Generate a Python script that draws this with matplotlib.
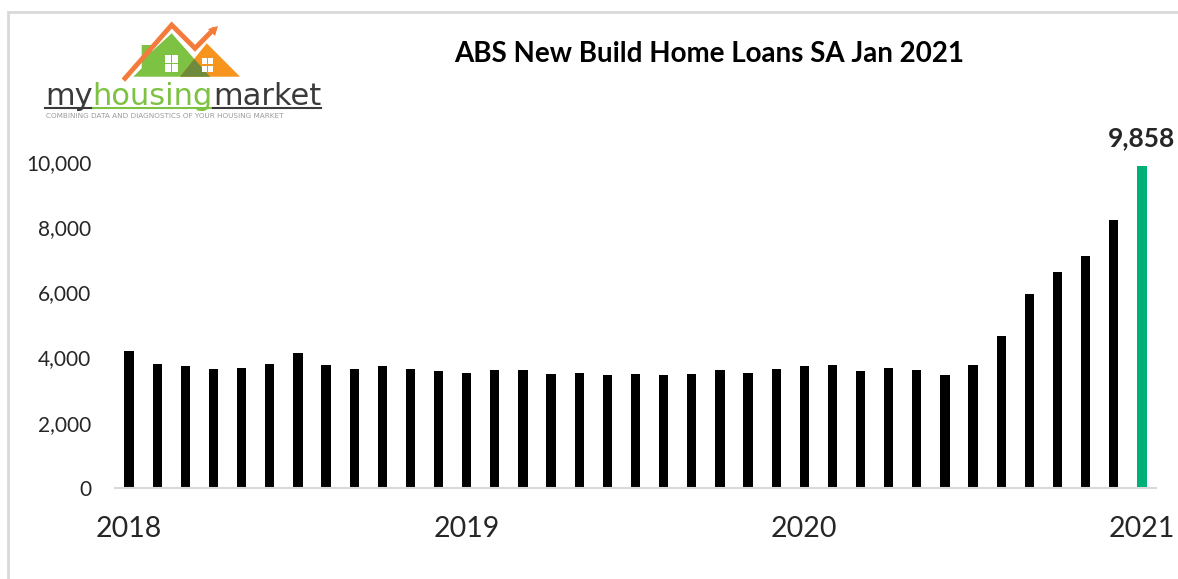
import matplotlib.pyplot as plt
from matplotlib.patches import Polygon, Rectangle
from matplotlib.lines import Line2D

plt.rcParams['font.family'] = ['Lato', 'DejaVu Sans']

# monthly new build home loans, Jan 2018 - Jan 2021
loans = [4199, 3812, 3739, 3647, 3690, 3812, 4128, 3782, 3647, 3739, 3647, 3576,
         3537, 3629, 3629, 3506, 3537, 3463, 3506, 3463, 3506, 3629, 3537, 3659,
         3751, 3782, 3586, 3690, 3616, 3463, 3770, 4671, 5936, 6632, 7110, 8213,
         9858]
year_pos = [0, 12, 24, 36]
year_labels = ["2018", "2019", "2020", "2021"]
yticks = [0, 2000, 4000, 6000, 8000, 10000]

W, H = 1178, 579
fig = plt.figure(figsize=(W / 100, H / 100), dpi=100)


def px(x, y):
    return (x / W, 1 - y / H)


# outer border
fig.add_artist(Rectangle(px(8, 640), 1.2, (640 - 12) / H, transform=fig.transFigure,
                         fill=False, ec='#d9d9d9', lw=2))

ax = fig.add_axes([115 / W, 1 - 488 / H, (1156 - 115) / W, (488 - 161.7) / H])
colors = ['black'] * (len(loans) - 1) + ['#00B077']
x = list(range(len(loans)))
ax.bar(x, loans, width=0.33, color=colors)
ax.set_xlim(-0.5, len(loans) - 0.5)
ax.set_ylim(0, 10000)
ax.set_yticks(yticks)
ax.set_yticklabels([f"{v:,}" for v in yticks], fontsize=15, color='#262626')
ax.set_xticks(year_pos)
ax.set_xticklabels(year_labels, fontsize=20.5, color='#262626')
ax.tick_params(axis='y', length=0, pad=17)
ax.tick_params(axis='x', length=0, pad=20)
for s in ['top', 'right', 'left']:
    ax.spines[s].set_visible(False)
ax.spines['bottom'].set_color('#d9d9d9')
ax.spines['bottom'].set_linewidth(1.5)

ax.annotate(f"{loans[-1]:,}", (x[-1], loans[-1]), xytext=(0, 12), textcoords='offset points',
            ha='center', va='bottom', fontsize=19, fontweight='bold', color='#262626',
            annotation_clip=False)

fig.text(*px(709, 53.5), "ABS New Build Home Loans SA Jan 2021", ha='center', va='center',
         fontsize=20, fontweight='bold', color='black')

# logo
green, orange, olive = '#7DC242', '#F7941D', '#6E8B3D'
fig.add_artist(Polygon([px(133.3, 76.7), px(141.7, 68.3), px(141.7, 45), px(151.7, 45),
                        px(151.7, 51.7), px(171.7, 33.3), px(210, 76.7)],
                       closed=True, transform=fig.transFigure, color=green, lw=0))
fig.add_artist(Polygon([px(180, 76.7), px(206.7, 43.3), px(240, 76.7)],
                       closed=True, transform=fig.transFigure, color=orange, lw=0))
fig.add_artist(Polygon([px(180, 76.7), px(194.3, 58.9), px(210, 76.7)],
                       closed=True, transform=fig.transFigure, color=olive, lw=0))
roof = [px(125, 78.3), px(171.7, 25), px(195, 48.3), px(213, 30)]
fig.add_artist(Line2D([p[0] for p in roof], [p[1] for p in roof], transform=fig.transFigure,
                      color='#F37B3B', lw=3.5, solid_joinstyle='miter'))
fig.add_artist(Polygon([px(218, 26), px(208, 29), px(215, 36)], closed=True,
                       transform=fig.transFigure, color='#F37B3B', lw=0))
for wx, wy, ww, wh in [(165, 55, 13.3, 16.7), (201.7, 58.3, 11.6, 13.4)]:
    pw, ph = (ww - 1.5) / 2, (wh - 1.5) / 2
    for i in range(2):
        for j in range(2):
            x0 = wx + i * (pw + 1.5)
            y0 = wy + (j + 1) * ph + j * 1.5
            fig.add_artist(Rectangle(px(x0, y0), pw / W, ph / H, transform=fig.transFigure,
                                     color='white', lw=0))

fig.canvas.draw()
r = fig.canvas.get_renderer()
cur = 45
for word, col in [("my", '#3a3a3a'), ("housing", green), ("market", '#3a3a3a')]:
    t = fig.text(cur / W, 1 - 105 / H, word, fontsize=22, color=col, ha='left',
                 va='baseline', family='DejaVu Sans')
    wpx = t.get_window_extent(r).width
    fig.add_artist(Line2D([cur / W, (cur + wpx) / W], [1 - 108 / H] * 2,
                          transform=fig.transFigure, color=col, lw=1.5))
    cur += wpx
fig.text(46 / W, 1 - 116.5 / H, "COMBINING DATA AND DIAGNOSTICS OF YOUR HOUSING MARKET",
         fontsize=5.2, color='#9a9a9a', ha='left', va='center', family='DejaVu Sans')

fig.savefig('out.png', dpi=100)
